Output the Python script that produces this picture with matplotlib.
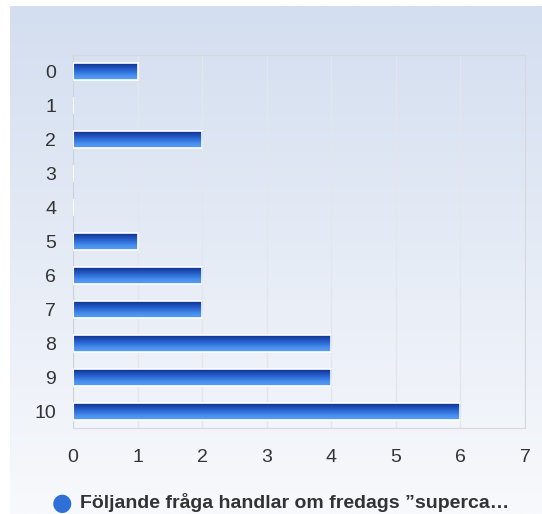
import numpy as np
import matplotlib
matplotlib.use("Agg")
import matplotlib.pyplot as plt
from matplotlib.colors import LinearSegmentedColormap

plt.rcParams['font.family'] = ['Liberation Sans', 'DejaVu Sans']

# data
categories = ["0", "1", "2", "3", "4", "5", "6", "7", "8", "9", "10"]
counts = [1, 0, 2, 0, 0, 1, 2, 2, 4, 4, 6]
x_ticks = [0, 1, 2, 3, 4, 5, 6, 7]
legend_text = "Följande fråga handlar om fredags \u201dsuperca\u2026"

W, H = 542, 514
fig = plt.figure(figsize=(W / 100, H / 100), dpi=100)
fig.patch.set_facecolor("white")

# background gradient panel
bg = fig.add_axes([10 / W, 0, 1 - 10 / W, 1 - 6 / H])
bg_cmap = LinearSegmentedColormap.from_list("bg", ["#d3def0", "#e6ecf6", "#f8f9fc"])
grad = np.linspace(0, 1, 256).reshape(-1, 1)
bg.imshow(grad, aspect="auto", cmap=bg_cmap, extent=[0, 1, 0, 1], origin="upper")
bg.set_axis_off()

ax = fig.add_axes([73 / W, 1 - 428 / H, (525 - 73) / W, (428 - 55) / H])
ax.patch.set_alpha(0)

y = np.arange(len(categories))
bar_h = 0.5
bars = ax.barh(y, counts, height=bar_h, color="none", edgecolor="white",
               linewidth=1.2, zorder=3)

bar_cmap = LinearSegmentedColormap.from_list(
    "bar", ["#0f2f8a", "#1f4fb8", "#2f6fd8", "#4a90ee", "#5aa0f4"])
for b in bars:
    w = b.get_width()
    yy = b.get_y()
    if w <= 0:
        ax.plot([0.005, 0.005], [yy + 0.1, yy + bar_h - 0.1], color="white", lw=1.2, zorder=3)
        continue
    im = ax.imshow(grad, aspect="auto", cmap=bar_cmap,
                   extent=[0, w, yy + bar_h, yy], origin="upper", zorder=2)
    im.set_clip_path(b)

ax.set_xlim(0, 7)
ax.set_ylim(len(categories) - 0.5, -0.5)
ax.set_xticks(x_ticks)
ax.set_yticks(y)
ax.set_yticklabels(categories)
ax.grid(axis="x", color="#e4e6ec", lw=1, zorder=0)
ax.set_axisbelow(True)
for s in ["top", "right", "bottom"]:
    ax.spines[s].set_color("#d6d8de")
ax.spines["left"].set_color("#cfd2d8")
ax.tick_params(length=0, labelsize=14, colors="#333333")
ax.tick_params(axis="x", pad=15)
ax.tick_params(axis="y", pad=12)

# legend
fig.text(62 / W, 1 - 503 / H, "\u25cf", fontsize=17, color="#2e6fd8",
         ha="center", va="center", family="DejaVu Sans")
fig.text(80 / W, 1 - 503 / H, legend_text, fontsize=14, fontweight="bold",
         color="#333333", ha="left", va="center")

fig.savefig("out.png", dpi=100)
